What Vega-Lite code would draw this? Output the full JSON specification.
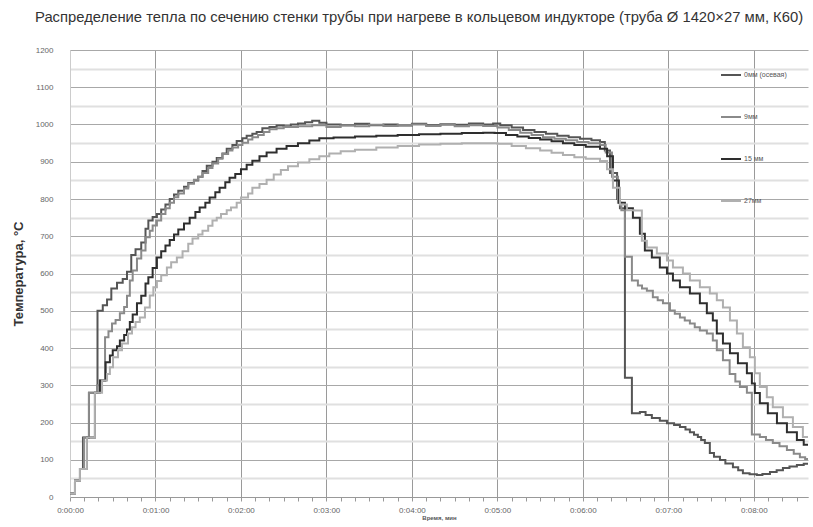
{
"$schema": "https://vega.github.io/schema/vega-lite/v6.json",
"width": 738, "height": 447,
"autosize": "none",
"padding": {"left": 70, "top": 50, "right": 5, "bottom": 30},
"background": "white",
"config": {"view": {"stroke": null}, "font": "Liberation Sans"},
"title": {"text": "Распределение тепла по сечению стенки трубы при нагреве в кольцевом индукторе (труба Ø 1420×27 мм, К60)", "fontSize": 14.8, "fontWeight": "normal", "color": "#333", "anchor": "start", "frame": "group", "dx": -35, "offset": 21},
"data": {"values": [
{"s":"0мм (осевая)","t":0,"v":10},{"s":"0мм (осевая)","t":3.5,"v":45},{"s":"0мм (осевая)","t":7,"v":75},{"s":"0мм (осевая)","t":9.1,"v":160},{"s":"0мм (осевая)","t":13.3,"v":280},{"s":"0мм (осевая)","t":19.3,"v":500},{"s":"0мм (осевая)","t":23,"v":515},{"s":"0мм (осевая)","t":26,"v":530},{"s":"0мм (осевая)","t":29,"v":560},{"s":"0мм (осевая)","t":33,"v":575},{"s":"0мм (осевая)","t":37,"v":585},{"s":"0мм (осевая)","t":40,"v":605},{"s":"0мм (осевая)","t":43,"v":650},{"s":"0мм (осевая)","t":46,"v":665},{"s":"0мм (осевая)","t":50,"v":683},{"s":"0мм (осевая)","t":53,"v":720},{"s":"0мм (осевая)","t":55,"v":742},{"s":"0мм (осевая)","t":58,"v":752},{"s":"0мм (осевая)","t":61,"v":760},{"s":"0мм (осевая)","t":64,"v":772},{"s":"0мм (осевая)","t":67,"v":785},{"s":"0мм (осевая)","t":70,"v":800},{"s":"0мм (осевая)","t":73,"v":812},{"s":"0мм (осевая)","t":76,"v":822},{"s":"0мм (осевая)","t":80,"v":833},{"s":"0мм (осевая)","t":83,"v":843},{"s":"0мм (осевая)","t":87,"v":850},{"s":"0мм (осевая)","t":90,"v":860},{"s":"0мм (осевая)","t":93,"v":875},{"s":"0мм (осевая)","t":96,"v":889},{"s":"0мм (осевая)","t":100,"v":900},{"s":"0мм (осевая)","t":103,"v":910},{"s":"0мм (осевая)","t":107,"v":922},{"s":"0мм (осевая)","t":110,"v":935},{"s":"0мм (осевая)","t":114,"v":945},{"s":"0мм (осевая)","t":117,"v":956},{"s":"0мм (осевая)","t":121,"v":963},{"s":"0мм (осевая)","t":124,"v":970},{"s":"0мм (осевая)","t":128,"v":975},{"s":"0мм (осевая)","t":131,"v":980},{"s":"0мм (осевая)","t":135,"v":990},{"s":"0мм (осевая)","t":140,"v":993},{"s":"0мм (осевая)","t":145,"v":997},{"s":"0мм (осевая)","t":150,"v":995},{"s":"0мм (осевая)","t":155,"v":1000},{"s":"0мм (осевая)","t":160,"v":1003},{"s":"0мм (осевая)","t":165,"v":1006},{"s":"0мм (осевая)","t":170,"v":1010},{"s":"0мм (осевая)","t":175,"v":1005},{"s":"0мм (осевая)","t":180,"v":1000},{"s":"0мм (осевая)","t":190,"v":998},{"s":"0мм (осевая)","t":200,"v":1002},{"s":"0мм (осевая)","t":210,"v":998},{"s":"0мм (осевая)","t":220,"v":1000},{"s":"0мм (осевая)","t":230,"v":997},{"s":"0мм (осевая)","t":240,"v":1002},{"s":"0мм (осевая)","t":250,"v":998},{"s":"0мм (осевая)","t":260,"v":1001},{"s":"0мм (осевая)","t":270,"v":999},{"s":"0мм (осевая)","t":280,"v":1003},{"s":"0мм (осевая)","t":290,"v":1000},{"s":"0мм (осевая)","t":297,"v":1003},{"s":"0мм (осевая)","t":302,"v":998},{"s":"0мм (осевая)","t":310,"v":992},{"s":"0мм (осевая)","t":318,"v":985},{"s":"0мм (осевая)","t":326,"v":980},{"s":"0мм (осевая)","t":334,"v":975},{"s":"0мм (осевая)","t":342,"v":970},{"s":"0мм (осевая)","t":350,"v":966},{"s":"0мм (осевая)","t":358,"v":962},{"s":"0мм (осевая)","t":366,"v":958},{"s":"0мм (осевая)","t":372,"v":953},{"s":"0мм (осевая)","t":375.4,"v":930},{"s":"0мм (осевая)","t":379,"v":870},{"s":"0мм (осевая)","t":384,"v":800},{"s":"0мм (осевая)","t":386,"v":775},{"s":"0мм (осевая)","t":389.5,"v":320},{"s":"0мм (осевая)","t":394.4,"v":225},{"s":"0мм (осевая)","t":400,"v":228},{"s":"0мм (осевая)","t":404,"v":220},{"s":"0мм (осевая)","t":408.4,"v":212},{"s":"0мм (осевая)","t":414,"v":205},{"s":"0мм (осевая)","t":419,"v":198},{"s":"0мм (осевая)","t":424,"v":193},{"s":"0мм (осевая)","t":428.1,"v":188},{"s":"0мм (осевая)","t":432,"v":181},{"s":"0мм (осевая)","t":435.1,"v":174},{"s":"0мм (осевая)","t":438,"v":167},{"s":"0мм (осевая)","t":440.7,"v":161},{"s":"0мм (осевая)","t":443,"v":153},{"s":"0мм (осевая)","t":445.6,"v":145},{"s":"0мм (осевая)","t":449.1,"v":118},{"s":"0мм (осевая)","t":452,"v":108},{"s":"0мм (осевая)","t":456.2,"v":99},{"s":"0мм (осевая)","t":460,"v":90},{"s":"0мм (осевая)","t":465.3,"v":80},{"s":"0мм (осевая)","t":469,"v":72},{"s":"0мм (осевая)","t":472.3,"v":64},{"s":"0мм (осевая)","t":477,"v":61},{"s":"0мм (осевая)","t":482.1,"v":59},{"s":"0мм (осевая)","t":486,"v":62},{"s":"0мм (осевая)","t":491.3,"v":67},{"s":"0мм (осевая)","t":496,"v":72},{"s":"0мм (осевая)","t":500.4,"v":78},{"s":"0мм (осевая)","t":505,"v":82},{"s":"0мм (осевая)","t":510.2,"v":86},{"s":"0мм (осевая)","t":515,"v":89},{"s":"0мм (осевая)","t":519.3,"v":91},
{"s":"9мм","t":0,"v":10},{"s":"9мм","t":3.5,"v":45},{"s":"9мм","t":7,"v":75},{"s":"9мм","t":9.8,"v":160},{"s":"9мм","t":13.3,"v":280},{"s":"9мм","t":19,"v":300},{"s":"9мм","t":21,"v":313},{"s":"9мм","t":24.6,"v":429},{"s":"9мм","t":27,"v":445},{"s":"9мм","t":29.5,"v":466},{"s":"9мм","t":32,"v":475},{"s":"9мм","t":35,"v":493},{"s":"9мм","t":38,"v":510},{"s":"9мм","t":40,"v":540},{"s":"9мм","t":42,"v":581},{"s":"9мм","t":44,"v":608},{"s":"9мм","t":47,"v":640},{"s":"9мм","t":50,"v":662},{"s":"9мм","t":53,"v":697},{"s":"9мм","t":56,"v":715},{"s":"9мм","t":58,"v":729},{"s":"9мм","t":61,"v":742},{"s":"9мм","t":64,"v":760},{"s":"9мм","t":67,"v":775},{"s":"9мм","t":70,"v":790},{"s":"9мм","t":73,"v":805},{"s":"9мм","t":76,"v":815},{"s":"9мм","t":80,"v":828},{"s":"9мм","t":83,"v":841},{"s":"9мм","t":87,"v":852},{"s":"9мм","t":90,"v":860},{"s":"9мм","t":93,"v":870},{"s":"9мм","t":97,"v":883},{"s":"9мм","t":100,"v":895},{"s":"9мм","t":104,"v":908},{"s":"9мм","t":107,"v":921},{"s":"9мм","t":111,"v":930},{"s":"9мм","t":114,"v":938},{"s":"9мм","t":118,"v":945},{"s":"9мм","t":121,"v":951},{"s":"9мм","t":125,"v":960},{"s":"9мм","t":128,"v":966},{"s":"9мм","t":132,"v":972},{"s":"9мм","t":136,"v":980},{"s":"9мм","t":140,"v":987},{"s":"9мм","t":145,"v":990},{"s":"9мм","t":150,"v":993},{"s":"9мм","t":160,"v":995},{"s":"9мм","t":170,"v":998},{"s":"9мм","t":180,"v":993},{"s":"9мм","t":190,"v":997},{"s":"9мм","t":200,"v":995},{"s":"9мм","t":210,"v":999},{"s":"9мм","t":220,"v":996},{"s":"9мм","t":230,"v":998},{"s":"9мм","t":240,"v":1000},{"s":"9мм","t":250,"v":996},{"s":"9мм","t":260,"v":999},{"s":"9мм","t":270,"v":995},{"s":"9мм","t":280,"v":998},{"s":"9мм","t":290,"v":996},{"s":"9мм","t":300,"v":992},{"s":"9мм","t":308,"v":985},{"s":"9мм","t":316,"v":978},{"s":"9мм","t":324,"v":972},{"s":"9мм","t":332,"v":966},{"s":"9мм","t":340,"v":962},{"s":"9мм","t":348,"v":958},{"s":"9мм","t":356,"v":953},{"s":"9мм","t":364,"v":950},{"s":"9мм","t":372,"v":945},{"s":"9мм","t":376,"v":925},{"s":"9мм","t":380.4,"v":860},{"s":"9мм","t":384.6,"v":790},{"s":"9мм","t":387,"v":770},{"s":"9мм","t":389.5,"v":645},{"s":"9мм","t":394.4,"v":581},{"s":"9мм","t":398.6,"v":568},{"s":"9мм","t":401.5,"v":560},{"s":"9мм","t":404.9,"v":554},{"s":"9мм","t":409.1,"v":536},{"s":"9мм","t":412.5,"v":528},{"s":"9мм","t":416.2,"v":520},{"s":"9мм","t":421.1,"v":501},{"s":"9мм","t":424.5,"v":492},{"s":"9мм","t":428.1,"v":482},{"s":"9мм","t":431.5,"v":474},{"s":"9мм","t":435.1,"v":466},{"s":"9мм","t":438.5,"v":456},{"s":"9мм","t":442.1,"v":447},{"s":"9мм","t":447,"v":439},{"s":"9мм","t":451.2,"v":420},{"s":"9мм","t":454,"v":394},{"s":"9мм","t":458.3,"v":367},{"s":"9мм","t":463,"v":330},{"s":"9мм","t":467,"v":310},{"s":"9мм","t":470.2,"v":295},{"s":"9мм","t":475.1,"v":280},{"s":"9мм","t":478.6,"v":168},{"s":"9мм","t":484.2,"v":161},{"s":"9мм","t":488.5,"v":153},{"s":"9мм","t":493.3,"v":145},{"s":"9мм","t":498,"v":136},{"s":"9мм","t":503.2,"v":126},{"s":"9мм","t":508,"v":116},{"s":"9мм","t":512.3,"v":107},{"s":"9мм","t":516,"v":102},{"s":"9мм","t":519.3,"v":99},
{"s":"15 мм","t":0,"v":10},{"s":"15 мм","t":3.5,"v":45},{"s":"15 мм","t":7,"v":75},{"s":"15 мм","t":11.9,"v":160},{"s":"15 мм","t":17.5,"v":280},{"s":"15 мм","t":21,"v":313},{"s":"15 мм","t":25,"v":362},{"s":"15 мм","t":28,"v":380},{"s":"15 мм","t":30,"v":394},{"s":"15 мм","t":33,"v":405},{"s":"15 мм","t":35,"v":420},{"s":"15 мм","t":38,"v":435},{"s":"15 мм","t":40,"v":450},{"s":"15 мм","t":42,"v":470},{"s":"15 мм","t":44,"v":490},{"s":"15 мм","t":47,"v":520},{"s":"15 мм","t":50,"v":540},{"s":"15 мм","t":53,"v":573},{"s":"15 мм","t":55,"v":590},{"s":"15 мм","t":58,"v":615},{"s":"15 мм","t":61,"v":643},{"s":"15 мм","t":64,"v":660},{"s":"15 мм","t":67,"v":675},{"s":"15 мм","t":70,"v":690},{"s":"15 мм","t":73,"v":705},{"s":"15 мм","t":76,"v":718},{"s":"15 мм","t":80,"v":734},{"s":"15 мм","t":84,"v":750},{"s":"15 мм","t":88,"v":765},{"s":"15 мм","t":91,"v":777},{"s":"15 мм","t":95,"v":790},{"s":"15 мм","t":98,"v":804},{"s":"15 мм","t":102,"v":818},{"s":"15 мм","t":105,"v":830},{"s":"15 мм","t":109,"v":845},{"s":"15 мм","t":112,"v":857},{"s":"15 мм","t":116,"v":867},{"s":"15 мм","t":120,"v":880},{"s":"15 мм","t":124,"v":892},{"s":"15 мм","t":128,"v":903},{"s":"15 мм","t":133,"v":915},{"s":"15 мм","t":138,"v":925},{"s":"15 мм","t":145,"v":935},{"s":"15 мм","t":152,"v":942},{"s":"15 мм","t":160,"v":950},{"s":"15 мм","t":168,"v":957},{"s":"15 мм","t":175,"v":963},{"s":"15 мм","t":185,"v":965},{"s":"15 мм","t":200,"v":968},{"s":"15 мм","t":215,"v":970},{"s":"15 мм","t":230,"v":972},{"s":"15 мм","t":245,"v":974},{"s":"15 мм","t":260,"v":975},{"s":"15 мм","t":275,"v":977},{"s":"15 мм","t":290,"v":978},{"s":"15 мм","t":298,"v":977},{"s":"15 мм","t":306,"v":972},{"s":"15 мм","t":314,"v":968},{"s":"15 мм","t":322,"v":964},{"s":"15 мм","t":330,"v":960},{"s":"15 мм","t":338,"v":955},{"s":"15 мм","t":346,"v":950},{"s":"15 мм","t":354,"v":945},{"s":"15 мм","t":362,"v":940},{"s":"15 мм","t":372,"v":935},{"s":"15 мм","t":377,"v":915},{"s":"15 мм","t":381.1,"v":850},{"s":"15 мм","t":385.3,"v":790},{"s":"15 мм","t":389.5,"v":775},{"s":"15 мм","t":395.1,"v":750},{"s":"15 мм","t":400,"v":707},{"s":"15 мм","t":403.5,"v":662},{"s":"15 мм","t":408.4,"v":643},{"s":"15 мм","t":414,"v":616},{"s":"15 мм","t":419,"v":600},{"s":"15 мм","t":423.2,"v":581},{"s":"15 мм","t":428.1,"v":563},{"s":"15 мм","t":435.1,"v":546},{"s":"15 мм","t":442.1,"v":520},{"s":"15 мм","t":447,"v":493},{"s":"15 мм","t":451.2,"v":474},{"s":"15 мм","t":454,"v":439},{"s":"15 мм","t":458.3,"v":412},{"s":"15 мм","t":463.2,"v":386},{"s":"15 мм","t":468.8,"v":359},{"s":"15 мм","t":475.1,"v":332},{"s":"15 мм","t":478.6,"v":305},{"s":"15 мм","t":480.7,"v":279},{"s":"15 мм","t":484.2,"v":252},{"s":"15 мм","t":489.8,"v":225},{"s":"15 мм","t":496.2,"v":198},{"s":"15 мм","t":503.2,"v":174},{"s":"15 мм","t":510.2,"v":153},{"s":"15 мм","t":515,"v":140},{"s":"15 мм","t":519.3,"v":131},
{"s":"27мм","t":0,"v":10},{"s":"27мм","t":3.5,"v":45},{"s":"27мм","t":7,"v":75},{"s":"27мм","t":11.9,"v":160},{"s":"27мм","t":17.5,"v":280},{"s":"27мм","t":22.5,"v":313},{"s":"27мм","t":26,"v":330},{"s":"27мм","t":28,"v":348},{"s":"27мм","t":30.2,"v":375},{"s":"27мм","t":33.7,"v":394},{"s":"27мм","t":36.5,"v":412},{"s":"27мм","t":40.7,"v":439},{"s":"27мм","t":43.5,"v":456},{"s":"27мм","t":46,"v":470},{"s":"27мм","t":49,"v":482},{"s":"27мм","t":52.6,"v":509},{"s":"27мм","t":56,"v":541},{"s":"27мм","t":58.5,"v":563},{"s":"27мм","t":61,"v":580},{"s":"27мм","t":64,"v":595},{"s":"27мм","t":68,"v":616},{"s":"27мм","t":71,"v":630},{"s":"27мм","t":75,"v":643},{"s":"27мм","t":79,"v":660},{"s":"27мм","t":83,"v":680},{"s":"27мм","t":86,"v":694},{"s":"27мм","t":90,"v":705},{"s":"27мм","t":93,"v":715},{"s":"27мм","t":97,"v":728},{"s":"27мм","t":100,"v":742},{"s":"27мм","t":103,"v":750},{"s":"27мм","t":106,"v":760},{"s":"27мм","t":110,"v":770},{"s":"27мм","t":113,"v":777},{"s":"27мм","t":117,"v":790},{"s":"27мм","t":120,"v":804},{"s":"27мм","t":125,"v":815},{"s":"27мм","t":128,"v":830},{"s":"27мм","t":133,"v":840},{"s":"27мм","t":138,"v":852},{"s":"27мм","t":143,"v":866},{"s":"27мм","t":148,"v":878},{"s":"27мм","t":153,"v":888},{"s":"27мм","t":160,"v":898},{"s":"27мм","t":168,"v":907},{"s":"27мм","t":175,"v":915},{"s":"27мм","t":182,"v":922},{"s":"27мм","t":190,"v":928},{"s":"27мм","t":200,"v":932},{"s":"27мм","t":215,"v":938},{"s":"27мм","t":230,"v":942},{"s":"27мм","t":245,"v":946},{"s":"27мм","t":260,"v":948},{"s":"27мм","t":275,"v":950},{"s":"27мм","t":290,"v":950},{"s":"27мм","t":300,"v":948},{"s":"27мм","t":310,"v":942},{"s":"27мм","t":320,"v":936},{"s":"27мм","t":330,"v":930},{"s":"27мм","t":338,"v":924},{"s":"27мм","t":346,"v":918},{"s":"27мм","t":354,"v":912},{"s":"27мм","t":362,"v":908},{"s":"27мм","t":372,"v":902},{"s":"27мм","t":376.9,"v":880},{"s":"27мм","t":381.1,"v":830},{"s":"27мм","t":386,"v":785},{"s":"27мм","t":390.9,"v":770},{"s":"27мм","t":396,"v":769},{"s":"27мм","t":401.4,"v":688},{"s":"27мм","t":404.9,"v":670},{"s":"27мм","t":411.9,"v":654},{"s":"27мм","t":419,"v":635},{"s":"27мм","t":423.2,"v":616},{"s":"27мм","t":430.2,"v":600},{"s":"27мм","t":435.1,"v":581},{"s":"27мм","t":442.1,"v":563},{"s":"27мм","t":449.1,"v":546},{"s":"27мм","t":454,"v":528},{"s":"27мм","t":458.3,"v":509},{"s":"27мм","t":463.2,"v":474},{"s":"27мм","t":468.1,"v":439},{"s":"27мм","t":472.3,"v":402},{"s":"27мм","t":477.2,"v":375},{"s":"27мм","t":480.7,"v":332},{"s":"27мм","t":484.2,"v":295},{"s":"27мм","t":489.1,"v":268},{"s":"27мм","t":493.3,"v":241},{"s":"27мм","t":500.4,"v":214},{"s":"27мм","t":507.4,"v":188},{"s":"27мм","t":514.4,"v":161},{"s":"27мм","t":519.3,"v":147}
]},
"mark": {"type": "line", "interpolate": "step-after", "strokeWidth": 2, "clip": true},
"encoding": {
"x": {"field": "t", "type": "quantitative", "scale": {"domain": [0, 518], "nice": false, "zero": false},
 "axis": {"values": [0,10,20,30,40,50,60,70,80,90,100,110,120,130,140,150,160,170,180,190,200,210,220,230,240,250,260,270,280,290,300,310,320,330,340,350,360,370,380,390,400,410,420,430,440,450,460,470,480,490,500,510],
  "labelExpr": "datum.value % 60 === 0 ? '0:0' + floor(datum.value/60) + ':00' : ''",
  "labelOverlap": false, "labelFlush": false, "labelFontSize": 8, "labelColor": "#666", "labelPadding": 5,
  "gridColor": {"condition": {"test": "datum.value % 60 === 0", "value": "#9a9a9a"}, "value": "transparent"},
  "tickSize": 4, "tickColor": "#999", "domainColor": "#999",
  "title": "Время, мин", "titleFontSize": 6, "titleFontWeight": "bold", "titleColor": "#555", "titlePadding": 0}},
"y": {"field": "v", "type": "quantitative", "scale": {"domain": [0, 1200], "nice": false},
 "axis": {"values": [0,50,100,150,200,250,300,350,400,450,500,550,600,650,700,750,800,850,900,950,1000,1050,1100,1150,1200],
  "labelExpr": "datum.value % 100 === 0 ? datum.label : ''",
  "labelOverlap": false, "labelFontSize": 8, "labelColor": "#666", "labelPadding": 17, "format": "d",
  "ticks": false, "domainColor": "#ccc",
  "gridColor": {"condition": {"test": "datum.value % 100 === 0", "value": "#a8a8a8"}, "value": "#e0e0e0"},
  "gridWidth": {"condition": {"test": "datum.value % 100 === 0", "value": 1}, "value": 2},
  "title": "Температура, °C", "titleFontSize": 13, "titleFontWeight": "bold", "titleColor": "#333", "titlePadding": 10}},
"color": {"field": "s", "type": "nominal",
 "scale": {"domain": ["0мм (осевая)", "9мм", "15 мм", "27мм"], "range": ["#555555", "#8a8a8a", "#2e2e2e", "#b0b0b0"]},
 "legend": {"orient": "none", "legendX": 650, "legendY": 14, "title": null, "symbolType": "stroke", "symbolSize": 400, "symbolStrokeWidth": 2, "labelFontSize": 7, "labelColor": "#555", "rowPadding": 27, "labelOffset": 2}}
}
}
